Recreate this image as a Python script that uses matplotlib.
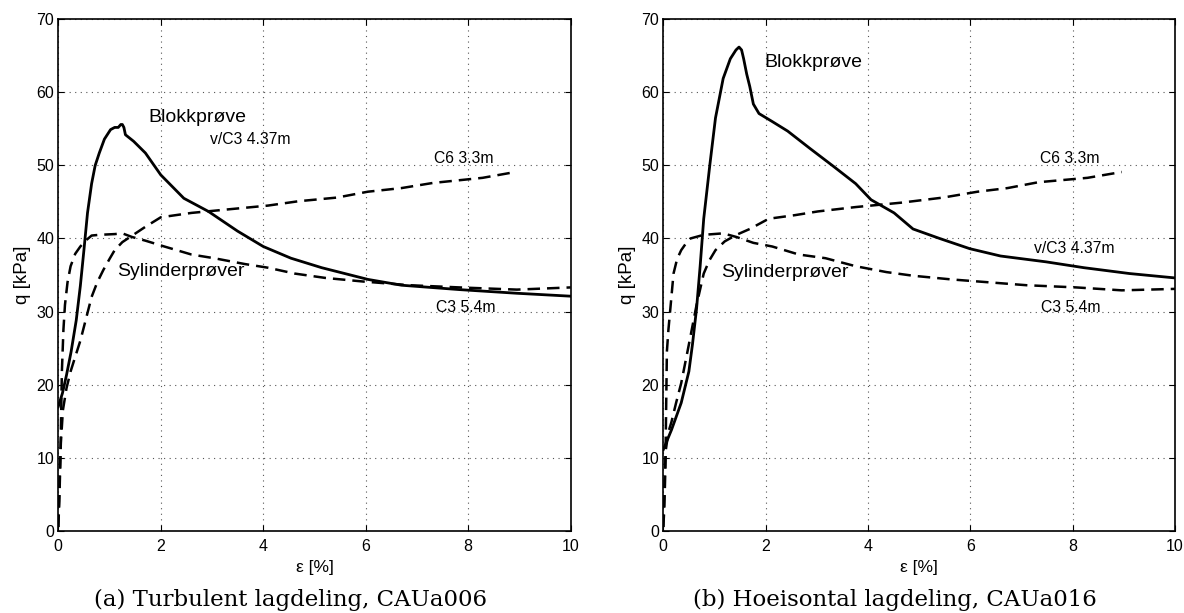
import matplotlib
matplotlib.use("Agg")
import matplotlib.pyplot as plt

# ---------------- data ----------------
# (a) Turbulent lagdeling, CAUa006
a_block_x = [0.0, 0.08, 0.16, 0.25, 0.35, 0.43, 0.5, 0.57, 0.65, 0.72, 0.8, 0.9, 1.02, 1.1, 1.17, 1.22, 1.25, 1.28, 1.31,
             1.47, 1.7, 2.0, 2.45, 2.93, 3.5, 4.0, 4.54, 5.14, 5.59, 6.04, 6.7, 7.83, 8.95, 10.0]
a_block_y = [17.0, 18.8, 21.3, 24.5, 28.8, 33.5, 38.4, 43.5, 47.5, 50.0, 51.7, 53.6, 54.9, 55.2, 55.2, 55.6, 55.6, 55.2, 54.2,
             53.3, 51.7, 48.7, 45.5, 43.7, 41.0, 38.9, 37.3, 36.0, 35.2, 34.4, 33.6, 33.0, 32.5, 32.1]

a_c3_x = [0.0, 0.02, 0.04, 0.07, 0.1, 0.13, 0.18, 0.24, 0.33, 0.43, 0.55, 0.65, 0.8, 1.1, 1.25, 1.44, 1.7, 2.07,
          2.6, 3.04, 3.64, 4.09, 4.61, 5.21, 5.96, 6.86, 7.83, 8.95, 10.0]
a_c3_y = [0.5, 4.0, 9.5, 21.8, 27.5, 30.9, 34.0, 36.2, 37.9, 38.9, 39.8, 40.4, 40.5, 40.6, 40.7, 40.2, 39.7, 38.9,
          37.8, 37.3, 36.5, 36.0, 35.2, 34.6, 34.1, 33.6, 33.3, 33.0, 33.3]

a_c6_x = [0.0, 0.02, 0.05, 0.09, 0.16, 0.24, 0.33, 0.43, 0.54, 0.65, 0.76, 0.88, 1.0, 1.1, 1.25, 1.4, 1.7, 2.0,
          2.6, 3.34, 4.09, 4.69, 5.44, 6.04, 6.7, 7.31, 8.28, 8.92]
a_c6_y = [0.5, 6.0, 12.0, 16.5, 19.5, 21.8, 23.8, 26.0, 29.0, 32.0, 34.0, 35.7, 37.2, 38.4, 39.5, 40.2, 41.6, 42.9,
          43.5, 44.0, 44.5, 45.1, 45.6, 46.4, 46.9, 47.6, 48.3, 49.1]

# (b) Hoeisontal lagdeling, CAUa016
b_block_x = [0.0, 0.16, 0.35, 0.5, 0.57, 0.65, 0.72, 0.79, 0.91, 1.02, 1.17, 1.31, 1.42, 1.48, 1.53, 1.57, 1.63, 1.69,
             1.76, 1.87, 2.13, 2.43, 2.87, 3.32, 3.76, 4.06, 4.51, 4.88, 5.4, 5.99, 6.59, 7.48, 8.22, 9.11, 10.0]
b_block_y = [11.1, 13.8, 17.5, 21.8, 25.5, 30.4, 36.2, 42.7, 50.1, 56.5, 61.9, 64.6, 65.8, 66.2, 65.8, 64.6, 62.5, 60.8,
             58.4, 57.1, 56.0, 54.7, 52.3, 49.9, 47.5, 45.3, 43.5, 41.3, 40.0, 38.6, 37.6, 36.8, 36.0, 35.2, 34.6]

b_c3_x = [0.0, 0.02, 0.04, 0.07, 0.1, 0.13, 0.2, 0.27, 0.35, 0.45, 0.53, 0.79, 1.17, 1.43, 1.76, 2.13, 2.65, 3.17,
          3.76, 4.36, 4.88, 5.62, 6.36, 7.1, 8.07, 8.96, 10.0]
b_c3_y = [0.5, 3.0, 8.4, 24.5, 27.5, 29.8, 35.2, 37.2, 38.4, 39.4, 40.0, 40.5, 40.7, 40.2, 39.4, 38.9, 37.8, 37.3,
          36.2, 35.4, 34.9, 34.4, 34.0, 33.6, 33.3, 32.9, 33.1]

b_c6_x = [0.0, 0.02, 0.05, 0.1, 0.16, 0.25, 0.35, 0.5, 0.65, 0.79, 0.9, 1.02, 1.2, 1.43, 1.69, 2.06, 2.58, 3.02,
          3.76, 4.65, 5.47, 6.14, 6.73, 7.33, 8.29, 8.96]
b_c6_y = [0.5, 6.0, 11.1, 13.5, 14.9, 17.5, 20.2, 25.5, 30.9, 35.2, 37.0, 38.4, 39.6, 40.5, 41.3, 42.7, 43.2, 43.7,
          44.3, 44.9, 45.6, 46.4, 46.9, 47.7, 48.3, 49.1]

x_ticks = [0, 2, 4, 6, 8, 10]
y_ticks = [0, 10, 20, 30, 40, 50, 60, 70]
captions = ["(a) Turbulent lagdeling, CAUa006", "(b) Hoeisontal lagdeling, CAUa016"]
x_label = "ε [%]"
y_label = "q [kPa]"

# annotations: (text, x, y, fontsize)
a_labels = [("Blokkprøve", 1.75, 56.5, 14), ("v/C3 4.37m", 2.96, 53.5, 11.3),
            ("Sylinderprøver", 1.14, 35.45, 14), ("C6 3.3m", 7.34, 50.9, 11.3), ("C3 5.4m", 7.38, 30.6, 11.3)]
b_labels = [("Blokkprøve", 1.98, 64.1, 14), ("C6 3.3m", 7.36, 50.9, 11.3),
            ("v/C3 4.37m", 7.24, 38.6, 11.3), ("C3 5.4m", 7.39, 30.6, 11.3), ("Sylinderprøver", 1.13, 35.3, 14)]

# ---------------- drawing ----------------
plt.rcParams['font.family'] = ['Liberation Sans', 'DejaVu Sans']

fig = plt.figure(figsize=(11.84, 6.13), dpi=100)
W, H = 1184, 613
ax_a = fig.add_axes([58.3 / W, (H - 530.7) / H, 512.4 / W, 511.4 / H])
ax_b = fig.add_axes([663.3 / W, (H - 530.7) / H, 511.7 / W, 511.4 / H])

dash = (0, (5.0, 2.8))
panels = [
    (ax_a, (a_block_x, a_block_y), (a_c3_x, a_c3_y), (a_c6_x, a_c6_y), a_labels, captions[0]),
    (ax_b, (b_block_x, b_block_y), (b_c3_x, b_c3_y), (b_c6_x, b_c6_y), b_labels, captions[1]),
]
for ax, blk, c3, c6, labels, cap in panels:
    ax.plot(c6[0], c6[1], color='black', lw=1.8, linestyle=dash)
    ax.plot(c3[0], c3[1], color='black', lw=1.8, linestyle=dash)
    ax.plot(blk[0], blk[1], color='black', lw=2.0, solid_joinstyle='round')
    ax.set_xlim(0, 10)
    ax.set_ylim(0, 70)
    ax.set_xticks(x_ticks)
    ax.set_yticks(y_ticks)
    ax.grid(True, linestyle=(0, (1, 4)), color='#555555', lw=0.8)
    ax.tick_params(direction='in', top=True, right=True, labelsize=11.5, length=4)
    ax.tick_params(axis='x', pad=6)
    ax.tick_params(axis='y', pad=3)
    for s in ax.spines.values():
        s.set_linewidth(1.2)
    ax.set_xlabel(x_label, fontsize=12.5, labelpad=4)
    ax.set_ylabel(y_label, fontsize=13.5, labelpad=4)
    for txt, x, y, fs in labels:
        ax.text(x, y, txt, fontsize=fs, ha='left', va='center')
    pos = ax.get_position()
    fig.text(pos.x0 + pos.width / 2 - 24 / W, (H - 600) / H, cap,
             family='DejaVu Serif', fontsize=16.5, ha='center', va='center')

fig.savefig("out.png", dpi=100)
